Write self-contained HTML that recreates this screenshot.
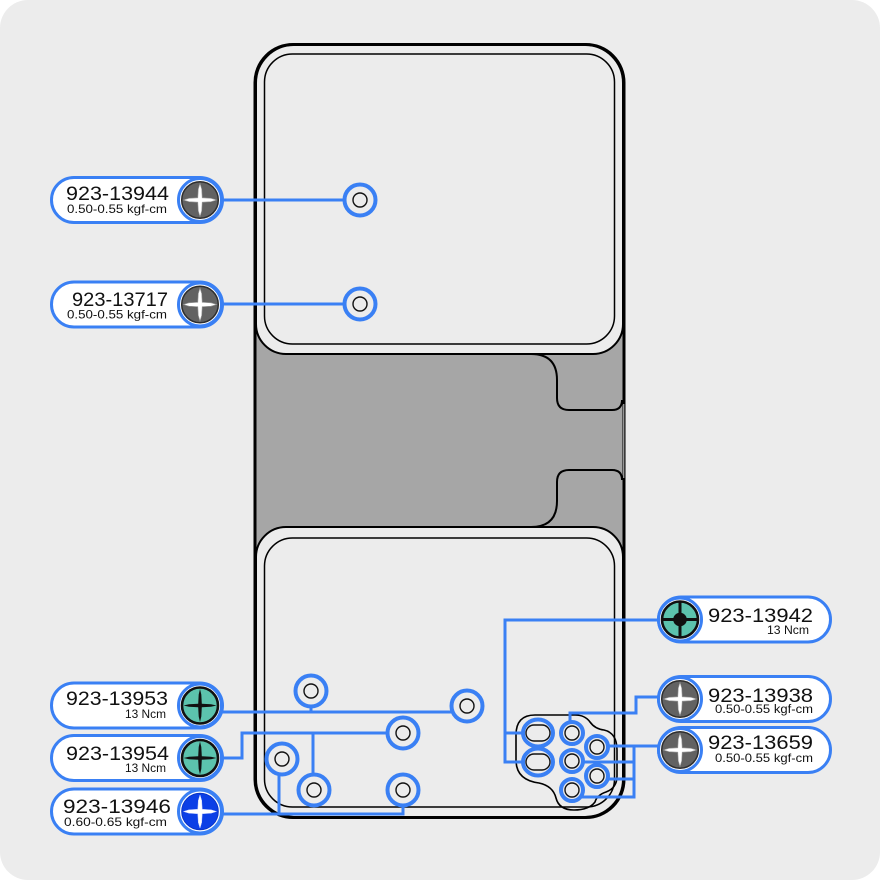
<!DOCTYPE html>
<html><head><meta charset="utf-8"><style>
html,body{margin:0;padding:0;background:#fff;}
svg{display:block;}
text{font-family:"Liberation Sans",Arial,sans-serif;fill:#111;}
</style></head><body>
<svg width="880" height="880" viewBox="0 0 880 880" xmlns="http://www.w3.org/2000/svg">
<defs>
  <path id="xc" d="M -16.5 0 L -11 -1.7 L -2.2 -2.2 L -1.7 -11 L 0 -16.5 L 1.7 -11 L 2.2 -2.2 L 11 -1.7 L 16.5 0 L 11 1.7 L 2.2 2.2 L 1.7 11 L 0 16.5 L -1.7 11 L -2.2 2.2 L -11 1.7 Z"/>
  <path id="xt" d="M -16.5 0 L -11 -1.3 L -1.8 -1.8 L -1.3 -11 L 0 -16.5 L 1.3 -11 L 1.8 -1.8 L 11 -1.3 L 16.5 0 L 11 1.3 L 1.8 1.8 L 1.3 11 L 0 16.5 L -1.3 11 L -1.8 1.8 L -11 1.3 Z"/>
  <g id="gicon">
    <circle r="21.5" fill="#fff" stroke="#3a80f4" stroke-width="3"/>
    <circle r="18.3" fill="#626262" stroke="#2e2e2e" stroke-width="1.5"/>
    <use href="#xc" fill="#fff" stroke="#9a9a9a" stroke-width="0.6"/>
  </g>
  <g id="ticon">
    <circle r="21.5" fill="#fff" stroke="#3a80f4" stroke-width="3"/>
    <circle r="18" fill="#5cc3ad" stroke="#111" stroke-width="2.6"/>
    <use href="#xt" fill="#111"/>
  </g>
  <g id="bscrew">
    <circle r="15.5" fill="#ececec" stroke="#3a80f4" stroke-width="4"/>
    <circle r="7" fill="none" stroke="#111" stroke-width="1.4"/>
  </g>
  <g id="sscrew">
    <circle r="11" fill="#ececec" stroke="#3a80f4" stroke-width="4"/>
    <circle r="7" fill="none" stroke="#111" stroke-width="1.4"/>
  </g>
  <g id="slot">
    <ellipse rx="15" ry="13.5" fill="#ececec" stroke="#3a80f4" stroke-width="4"/>
    <rect x="-12" y="-8" width="24" height="16" rx="8" fill="none" stroke="#111" stroke-width="1.4"/>
  </g>
</defs>

<!-- card -->
<rect x="0" y="0" width="880" height="880" rx="28" fill="#ececec"/>

<!-- gray middle band -->
<rect x="256" y="300" width="367" height="280" fill="#a6a6a6"/>

<!-- top panel -->
<path d="M 294 45 L 585 45 A 38 38 0 0 1 623 83 L 623 324 A 30 30 0 0 1 593 354 L 286 354 A 30 30 0 0 1 256 324 L 256 83 A 38 38 0 0 1 294 45 Z" fill="#ececec" stroke="#000" stroke-width="2"/>
<rect x="264.5" y="54" width="350" height="290" rx="28" fill="none" stroke="#000" stroke-width="1.5"/>

<!-- bottom panel -->
<path d="M 286 527 L 593 527 A 30 30 0 0 1 623 557 L 623 779 A 38 38 0 0 1 585 817 L 294 817 A 38 38 0 0 1 256 779 L 256 557 A 30 30 0 0 1 286 527 Z" fill="#ececec" stroke="#000" stroke-width="2"/>
<rect x="264.5" y="538" width="350" height="269" rx="28" fill="none" stroke="#000" stroke-width="1.5"/>

<!-- notches -->
<path d="M 531 354 Q 557 354 557 380 L 557 398 Q 557 410 569 410 L 612 410 Q 622 410 622 400" fill="none" stroke="#000" stroke-width="2"/>
<path d="M 622 480 Q 622 470 612 470 L 569 470 Q 557 470 557 482 L 557 501 Q 557 527 531 527" fill="none" stroke="#000" stroke-width="2"/>

<!-- outer frame -->
<rect x="255" y="44.5" width="369" height="773" rx="38" fill="none" stroke="#000" stroke-width="3"/>
<line x1="623.8" y1="404" x2="623.8" y2="478" stroke="#e6e6e6" stroke-width="0.9"/>

<!-- cluster blob -->
<path d="M 535 715 L 575 715 Q 585 715 590 722 Q 595 729 604 730 Q 617 733 617 750 L 617 776 Q 617 788 606 792 Q 597 795 595 802 Q 589 810 574 810 Q 559 810 556 798 Q 553 786 539 783 Q 516 780 516 760 L 516 735 Q 516 715 535 715 Z" fill="none" stroke="#000" stroke-width="1.6"/>

<!-- connectors -->
<g fill="none" stroke="#3a80f4" stroke-width="3">
  <path d="M 222 200 H 345"/>
  <path d="M 222 304 H 345"/>
  <path d="M 222 712 H 452"/>
  <path d="M 311 700 V 712"/>
  <path d="M 222 758 H 242 V 733 H 388"/>
  <path d="M 313 733 V 775"/>
  <path d="M 222 814 H 403 V 800"/>
  <path d="M 279 770 V 814"/>
  <path d="M 658 620 H 505 V 762 H 525"/>
  <path d="M 505 733 H 525"/>
  <path d="M 658 697 H 636 V 713 H 570 V 725"/>
  <path d="M 658 746 H 605"/>
  <path d="M 634 746 V 797 H 580"/>
  <path d="M 634 762 H 580"/>
  <path d="M 634 779 H 605"/>
</g>

<!-- big screws -->
<use href="#bscrew" x="360" y="200"/>
<use href="#bscrew" x="360" y="304"/>
<use href="#bscrew" x="311" y="691"/>
<use href="#bscrew" x="467" y="706"/>
<use href="#bscrew" x="403" y="733"/>
<use href="#bscrew" x="282" y="759"/>
<use href="#bscrew" x="314" y="790"/>
<use href="#bscrew" x="403" y="790"/>

<!-- cluster screws -->
<use href="#slot" x="538" y="733"/>
<use href="#slot" x="538" y="762"/>
<use href="#sscrew" x="572" y="733"/>
<use href="#sscrew" x="572" y="761"/>
<use href="#sscrew" x="572" y="790"/>
<use href="#sscrew" x="597" y="747"/>
<use href="#sscrew" x="597" y="776"/>

<!-- pills -->
<g fill="#fff" stroke="#3a80f4" stroke-width="3">
  <rect x="51.5" y="177.5" width="171" height="45" rx="22.5"/>
  <rect x="51.5" y="282" width="171" height="45" rx="22.5"/>
  <rect x="51.5" y="683" width="171" height="45" rx="22.5"/>
  <rect x="51.5" y="735.5" width="171" height="45" rx="22.5"/>
  <rect x="51.5" y="789" width="171" height="45" rx="22.5"/>
  <rect x="658.5" y="597" width="172" height="45" rx="22.5"/>
  <rect x="658.5" y="676.5" width="172" height="45" rx="22.5"/>
  <rect x="658.5" y="727.5" width="172" height="45" rx="22.5"/>
</g>

<!-- icons -->
<use href="#gicon" x="200" y="200"/>
<use href="#gicon" x="200" y="304.5"/>
<use href="#ticon" x="200" y="705.5"/>
<use href="#ticon" x="200" y="758"/>
<g transform="translate(200,811.5)">
  <circle r="21.5" fill="#fff" stroke="#3a80f4" stroke-width="3"/>
  <circle r="18.3" fill="#0b3fe6" stroke="#0a35c4" stroke-width="1"/>
  <use href="#xc" fill="#fff" stroke="#c8d4ff" stroke-width="0.5"/>
</g>
<g transform="translate(680,619.5)">
  <circle r="21.5" fill="#fff" stroke="#3a80f4" stroke-width="3"/>
  <circle r="18" fill="#5cc3ad" stroke="#111" stroke-width="2.6"/>
  <path d="M -17 0 H 17 M 0 -17 V 17" stroke="#111" stroke-width="3"/>
  <circle r="6.8" fill="#111"/>
</g>
<use href="#gicon" x="680" y="699"/>
<use href="#gicon" x="680" y="750"/>

<!-- texts -->
<text x="66" y="200" font-size="19.5" textLength="103" lengthAdjust="spacingAndGlyphs">923-13944</text>
<text x="67" y="213" font-size="12" textLength="100" lengthAdjust="spacingAndGlyphs">0.50-0.55 kgf-cm</text>

<text x="72" y="306" font-size="19.5" textLength="96" lengthAdjust="spacingAndGlyphs">923-13717</text>
<text x="67" y="318.5" font-size="12" textLength="100" lengthAdjust="spacingAndGlyphs">0.50-0.55 kgf-cm</text>

<text x="66" y="705" font-size="19.5" textLength="102" lengthAdjust="spacingAndGlyphs">923-13953</text>
<text x="125" y="718" font-size="12" textLength="41" lengthAdjust="spacingAndGlyphs">13 Ncm</text>

<text x="66" y="760" font-size="19.5" textLength="103" lengthAdjust="spacingAndGlyphs">923-13954</text>
<text x="125" y="772" font-size="12" textLength="41" lengthAdjust="spacingAndGlyphs">13 Ncm</text>

<text x="63" y="813" font-size="19.5" textLength="108" lengthAdjust="spacingAndGlyphs">923-13946</text>
<text x="64" y="826" font-size="12" textLength="103" lengthAdjust="spacingAndGlyphs">0.60-0.65 kgf-cm</text>

<text x="708" y="622" font-size="19.5" textLength="105" lengthAdjust="spacingAndGlyphs">923-13942</text>
<text x="767" y="634" font-size="12" textLength="42" lengthAdjust="spacingAndGlyphs">13 Ncm</text>

<text x="708" y="702" font-size="19.5" textLength="105" lengthAdjust="spacingAndGlyphs">923-13938</text>
<text x="715" y="713" font-size="11.5" textLength="98" lengthAdjust="spacingAndGlyphs">0.50-0.55 kgf-cm</text>

<text x="708" y="749" font-size="19.5" textLength="105" lengthAdjust="spacingAndGlyphs">923-13659</text>
<text x="715" y="762" font-size="12" textLength="98" lengthAdjust="spacingAndGlyphs">0.50-0.55 kgf-cm</text>
</svg>
</body></html>
